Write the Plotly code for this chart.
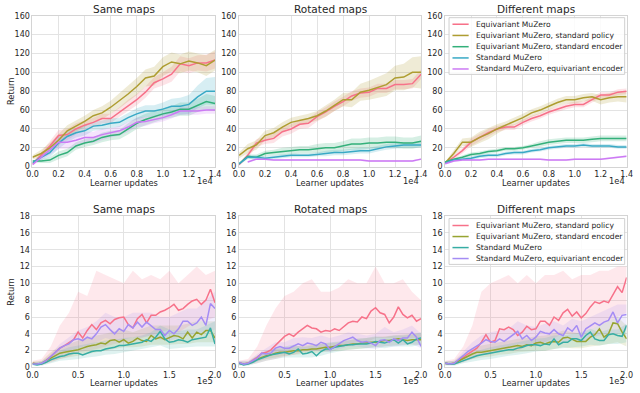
import plotly.graph_objects as go
from plotly.subplots import make_subplots

# ---------------- top row: learner updates (x1e4) ----------------
top_updates = [0, 667, 1333, 2000, 2667, 3333, 4000, 4667, 5333, 6000, 6667,
               7333, 8000, 8667, 9333, 10000, 10667, 11333, 12000, 12667, 13333, 14000]
top_tick_vals = [0, 2000, 4000, 6000, 8000, 10000, 12000, 14000]
top_tick_text = ["0.0", "0.2", "0.4", "0.6", "0.8", "1.0", "1.2", "1.4"]

top_names = ["Equivariant MuZero", "Equivariant MuZero, standard policy",
             "Equivariant MuZero, standard encoder", "Standard MuZero",
             "Standard MuZero, equivariant encoder"]
top_colors = ["#f77189", "#ae9d31", "#33b07a", "#38a9c5", "#cc7af4"]

# same maps
same_eq = [3, 12, 22, 33, 34, 40, 44, 47, 51, 51, 58, 65, 71, 79, 89, 93, 98, 109, 107, 110, 110, 113]
same_pol = [10, 14, 20, 28, 38, 43, 48, 54, 57, 63, 70, 77, 85, 94, 96, 106, 111, 109, 112, 110, 107, 113]
same_enc = [6, 6, 7, 12, 15, 22, 25, 27, 31, 33, 34, 40, 46, 50, 53, 56, 58, 61, 61, 65, 69, 67]
same_std = [4, 10, 15, 25, 32, 36, 38, 43, 44, 46, 47, 52, 56, 59, 59, 61, 64, 64, 66, 74, 80, 80]
same_eqenc = [2, 10, 18, 26, 26, 28, 31, 31, 34, 36, 38, 42, 47, 48, 50, 52, 55, 59, 59, 59, 60, 60]
same_eq_sp = [1, 3, 5, 6, 6, 6, 5, 5, 5, 5, 5, 6, 6, 6, 6, 7, 8, 8, 8, 8, 9, 9]
same_pol_sp = [2, 4, 5, 6, 6, 6, 6, 6, 7, 7, 8, 8, 9, 9, 10, 10, 10, 10, 10, 10, 11, 11]
same_enc_sp = [1, 2, 3, 4, 4, 4, 4, 4, 5, 5, 5, 6, 6, 6, 6, 6, 6, 7, 7, 7, 8, 8]
same_std_sp = [1, 3, 5, 6, 6, 5, 5, 5, 5, 5, 5, 5, 6, 6, 6, 7, 8, 9, 10, 12, 14, 15]
same_eqenc_sp = [1, 3, 5, 7, 7, 7, 6, 6, 6, 5, 5, 5, 5, 5, 4, 4, 4, 4, 4, 4, 4, 4]

# rotated maps
rot_eq = [2, 12, 25, 28, 30, 37, 40, 45, 46, 53, 58, 64, 69, 75, 78, 79, 83, 83, 87, 87, 88, 98]
rot_pol = [12, 19, 23, 33, 36, 42, 47, 49, 51, 54, 59, 65, 71, 71, 79, 81, 84, 87, 94, 95, 100, 100]
rot_enc = [3, 11, 10, 14, 15, 16, 17, 18, 18, 19, 20, 20, 22, 24, 24, 25, 25, 26, 26, 25, 25, 27]
rot_std = [3, 10, 10, 9, 10, 11, 12, 12, 12, 13, 14, 15, 15, 16, 17, 17, 19, 21, 22, 23, 23, 23]
rot_eqenc = [None, 5, 8, 8, 7, 7, 7, 7, 7, 7, 7, 7, 7, 7, 7, 6, 6, 6, 6, 6, 6, 8]
rot_eq_sp = [1, 3, 4, 4, 5, 5, 5, 5, 5, 5, 5, 5, 5, 5, 5, 5, 5, 5, 5, 5, 5, 5]
rot_pol_sp = [3, 5, 5, 5, 5, 5, 5, 5, 5, 5, 6, 6, 7, 8, 9, 10, 11, 12, 13, 14, 16, 17]
rot_enc_sp = [1, 2, 3, 3, 3, 4, 4, 4, 4, 5, 5, 5, 5, 6, 6, 6, 6, 6, 6, 6, 6, 6]
rot_std_sp = [1, 2, 2, 2, 2, 2, 2, 2, 2, 2, 3, 3, 3, 3, 3, 3, 3, 3, 3, 3, 3, 3]
rot_eqenc_sp = [None, 1, 1, 1, 1, 1, 1, 1, 1, 1, 1, 1, 1, 1, 1, 1, 1, 1, 1, 1, 1, 1]

# different maps
diff_eq = [4, 10, 17, 26, 31, 36, 40, 42, 42, 47, 51, 54, 58, 61, 64, 66, 66, 71, 76, 76, 79, 80]
diff_pol = [4, 14, 26, 26, 31, 35, 40, 44, 48, 52, 57, 60, 64, 68, 71, 71, 73, 74, 71, 73, 74, 74]
diff_enc = [5, 8, 10, 13, 14, 16, 17, 19, 19, 20, 22, 24, 26, 27, 28, 28, 28, 29, 30, 30, 30, 30]
diff_std = [4, 7, 8, 9, 11, 12, 12, 14, 15, 15, 17, 18, 20, 21, 22, 22, 23, 22, 22, 22, 21, 21]
diff_eqenc = [3, 6, 7, 7, 7, 8, 8, 8, 8, 8, 8, 8, 7, 7, 7, 8, 8, 8, 8, 9, 10, 11]
diff_eq_sp = [1, 2, 3, 4, 4, 4, 3, 3, 3, 3, 3, 3, 3, 3, 3, 3, 3, 3, 3, 3, 3, 3]
diff_pol_sp = [1, 3, 4, 5, 6, 6, 5, 4, 4, 4, 4, 4, 4, 4, 4, 4, 4, 4, 5, 5, 5, 6]
diff_enc_sp = [1, 1, 2, 2, 2, 2, 2, 2, 2, 2, 2, 3, 3, 3, 3, 3, 3, 3, 3, 3, 3, 3]
diff_std_sp = [1, 1, 1, 2, 2, 2, 2, 2, 2, 2, 2, 2, 2, 2, 2, 2, 2, 2, 2, 2, 2, 2]
diff_eqenc_sp = [1, 1, 1, 1, 1, 1, 1, 1, 1, 1, 1, 1, 1, 1, 1, 1, 1, 1, 1, 1, 1, 1]

# ---------------- bottom row: learner updates (x1e5) ----------------
bottom_updates = [0, 5000, 10000, 15000, 20000, 25000, 30000, 35000, 40000, 45000, 50000,
                  55000, 60000, 65000, 70000, 75000, 80000, 85000, 90000, 95000, 100000,
                  105000, 110000, 115000, 120000, 125000, 130000, 135000, 140000, 145000, 150000,
                  155000, 160000, 165000, 170000, 175000, 180000, 185000, 190000, 195000, 200000]
band_updates = [0, 10000, 20000, 30000, 40000, 50000, 60000, 70000, 80000, 90000, 100000,
                110000, 120000, 130000, 140000, 150000, 160000, 170000, 180000, 190000, 200000]
bottom_tick_vals = [0, 50000, 100000, 150000, 200000]
bottom_tick_text = ["0.0", "0.5", "1.0", "1.5", "2.0"]

bottom_names = ["Equivariant MuZero, standard policy", "Equivariant MuZero, standard encoder",
                "Standard MuZero", "Standard MuZero, equivariant encoder"]
bottom_colors = ["#f77189", "#97a431", "#36ada4", "#a48cf4"]

# same maps
same_b_pol = [0.5, 0.4, 0.4, 0.8, 1.3, 1.8, 2.3, 2.6, 3.0, 3.3, 4.2, 3.5, 4.4, 5.1, 4.5, 5.3, 5.6, 5.2, 5.7, 5.9, 6.0,
              5.1, 4.7, 5.8, 6.3, 5.3, 6.2, 6.2, 6.6, 6.8, 7.1, 7.5, 6.8, 7.0, 7.5, 7.9, 8.1, 7.5, 8.0, 9.3, 7.7]
same_b_enc = [0.5, 0.4, 0.5, 0.8, 1.2, 1.5, 1.7, 1.8, 1.9, 2.0, 2.1, 2.3, 2.5, 2.6, 2.7, 2.9, 2.8, 3.2, 3.3, 3.0, 3.3,
              2.9, 3.1, 3.5, 3.2, 3.1, 3.8, 3.4, 3.6, 3.3, 3.6, 3.8, 3.7, 3.4, 4.2, 3.5, 4.2, 3.9, 4.4, 4.4, 3.5]
same_b_std = [0.4, 0.3, 0.4, 0.6, 0.9, 1.1, 1.3, 1.4, 1.6, 1.7, 1.7, 1.5, 1.7, 1.9, 2.0, 2.0, 2.2, 2.3, 2.4, 2.6, 2.6,
              2.7, 2.8, 2.9, 3.0, 3.3, 3.1, 3.6, 4.3, 3.4, 3.0, 3.1, 3.3, 3.2, 3.0, 3.3, 3.4, 3.5, 3.6, 4.7, 2.8]
same_b_eqenc = [0.4, 0.4, 0.5, 0.8, 1.3, 1.8, 2.3, 2.6, 2.8, 3.3, 3.4, 3.2, 3.6, 3.4, 4.0, 4.8, 5.1, 4.5, 4.0, 4.6, 4.3,
                5.1, 4.7, 5.4, 4.8, 5.4, 5.0, 4.5, 4.5, 3.8, 4.4, 4.0, 4.6, 5.5, 5.5, 5.0, 5.3, 6.0, 5.0, 7.6, 7.0]
same_b_pol_lo = [0.3, 0.3, 0.6, 1.0, 1.3, 1.8, 2.0, 2.2, 2.5, 2.8, 3.0, 3.0, 3.5, 3.8, 4.2, 4.5, 4.2, 4.8, 5.5, 5.5, 6.0]
same_b_pol_hi = [0.8, 1.0, 2.5, 5.0, 6.5, 9.0, 8.5, 11.5, 11.0, 10.5, 10.0, 11.5, 10.5, 11.0, 10.5, 11.5, 10.0, 11.0, 12.0, 11.0, 11.5]
same_b_enc_lo = [0.3, 0.3, 0.7, 1.0, 1.2, 1.4, 1.6, 1.8, 2.0, 2.2, 2.4, 2.4, 2.5, 2.7, 2.7, 2.7, 2.8, 2.8, 3.0, 3.0, 3.0]
same_b_enc_hi = [0.7, 0.8, 1.8, 2.5, 2.8, 3.2, 3.6, 3.8, 4.0, 4.3, 4.5, 4.2, 4.6, 5.0, 5.0, 5.0, 5.0, 5.2, 5.5, 5.5, 5.5]
same_b_std_lo = [0.2, 0.2, 0.5, 0.8, 0.9, 1.0, 1.2, 1.3, 1.5, 1.6, 1.8, 2.0, 2.2, 2.4, 2.6, 2.2, 2.3, 2.4, 2.5, 2.5, 2.5]
same_b_std_hi = [0.6, 0.7, 1.4, 2.0, 2.4, 2.6, 2.8, 3.0, 3.2, 3.3, 3.5, 3.6, 3.8, 4.2, 5.0, 4.5, 4.3, 4.5, 4.5, 5.0, 5.5]
same_b_eqenc_lo = [0.3, 0.3, 0.8, 1.6, 2.0, 2.3, 2.6, 3.0, 3.5, 3.2, 3.3, 3.6, 3.6, 3.8, 3.3, 3.2, 3.5, 3.8, 4.0, 4.2, 4.5]
same_b_eqenc_hi = [0.6, 0.7, 1.6, 2.8, 3.6, 4.4, 4.8, 5.5, 6.5, 6.0, 6.0, 6.5, 6.5, 6.5, 6.0, 6.0, 6.5, 7.0, 7.0, 8.0, 9.0]

# rotated maps
rot_b_pol = [0.6, 0.4, 0.5, 0.8, 1.2, 1.7, 1.8, 2.1, 2.6, 3.2, 3.7, 4.0, 3.7, 4.2, 4.6, 5.0, 4.7, 4.6, 4.2, 4.4, 4.3,
             4.6, 4.4, 4.9, 5.3, 5.5, 5.4, 6.0, 5.8, 6.7, 7.1, 6.5, 6.3, 5.3, 6.0, 7.2, 6.3, 5.9, 6.2, 5.5, 5.8]
rot_b_enc = [0.5, 0.4, 0.5, 0.7, 1.0, 1.2, 1.4, 1.5, 1.7, 1.8, 1.8, 1.9, 2.0, 2.0, 2.1, 2.1, 2.2, 2.2, 2.3, 2.4, 2.4,
             2.5, 2.6, 2.6, 2.7, 2.8, 2.8, 2.9, 2.9, 3.0, 3.0, 3.1, 3.2, 3.2, 3.3, 3.4, 3.3, 3.2, 3.3, 3.3, 3.3]
rot_b_std = [0.5, 0.3, 0.4, 0.6, 0.9, 1.1, 1.3, 1.5, 1.6, 1.7, 1.8, 1.6, 1.8, 2.2, 1.6, 1.7, 1.9, 1.4, 1.9, 2.2, 2.2,
             2.4, 2.5, 2.6, 2.7, 2.7, 2.8, 2.8, 2.8, 2.9, 3.1, 3.0, 2.9, 3.1, 3.3, 2.9, 3.3, 2.8, 3.0, 3.4, 3.5]
rot_b_eqenc = [0.6, 0.4, 0.5, 0.8, 1.1, 1.7, 1.6, 1.7, 2.3, 2.5, 2.3, 2.3, 2.6, 2.8, 2.6, 2.9, 2.8, 2.6, 3.0, 2.8, 2.1,
               2.5, 2.9, 3.2, 3.4, 3.6, 3.2, 3.0, 3.1, 2.9, 2.6, 3.2, 3.3, 3.0, 3.4, 3.2, 3.5, 3.5, 4.2, 3.6, 2.5]
rot_b_pol_lo = [0.3, 0.3, 0.5, 0.8, 1.0, 1.3, 1.5, 1.8, 2.0, 2.0, 2.2, 2.5, 2.8, 3.0, 3.0, 3.5, 3.5, 3.5, 3.5, 3.5, 3.5]
rot_b_pol_hi = [0.8, 1.0, 2.5, 5.0, 7.0, 8.5, 9.0, 10.0, 10.5, 9.0, 9.0, 9.5, 10.5, 10.0, 10.0, 12.0, 10.0, 10.0, 10.5, 9.0, 8.0]
rot_b_enc_lo = [0.3, 0.3, 0.7, 1.0, 1.2, 1.4, 1.5, 1.6, 1.7, 1.8, 1.9, 2.0, 2.1, 2.2, 2.3, 2.4, 2.5, 2.6, 2.7, 2.7, 2.7]
rot_b_enc_hi = [0.7, 0.7, 1.4, 1.9, 2.2, 2.3, 2.5, 2.6, 2.7, 2.8, 2.9, 3.0, 3.2, 3.4, 3.5, 3.6, 3.7, 3.8, 3.9, 4.0, 4.0]
rot_b_std_lo = [0.2, 0.2, 0.5, 0.8, 1.0, 1.2, 1.2, 1.2, 1.2, 1.4, 1.7, 1.9, 2.1, 2.2, 2.3, 2.4, 2.3, 2.5, 2.5, 2.5, 2.7]
rot_b_std_hi = [0.7, 0.7, 1.4, 2.0, 2.3, 2.5, 2.7, 2.4, 2.6, 2.8, 3.0, 3.1, 3.3, 3.4, 3.5, 3.7, 3.6, 3.8, 3.8, 3.9, 4.2]
rot_b_eqenc_lo = [0.3, 0.3, 0.7, 1.2, 1.5, 1.6, 1.8, 2.0, 2.0, 2.0, 1.8, 2.2, 2.5, 2.5, 2.3, 2.2, 2.5, 2.5, 2.6, 2.8, 2.3]
rot_b_eqenc_hi = [0.8, 0.8, 1.6, 2.3, 3.0, 3.0, 3.5, 3.6, 3.5, 3.8, 3.5, 3.8, 4.2, 4.0, 3.8, 4.0, 4.8, 4.2, 4.5, 5.0, 4.0]

# different maps
diff_b_pol = [0.5, 0.4, 0.5, 0.8, 1.2, 1.6, 2.0, 2.3, 3.0, 3.9, 3.0, 3.2, 4.6, 4.5, 4.8, 4.5, 3.8, 4.2, 4.9, 4.5, 4.6,
              5.5, 5.5, 5.0, 6.0, 5.6, 6.5, 6.9, 6.1, 6.6, 5.9, 6.4, 7.2, 7.8, 7.6, 7.9, 7.7, 8.7, 9.6, 8.9, 10.7]
diff_b_enc = [0.5, 0.4, 0.5, 0.8, 1.1, 1.4, 1.6, 1.8, 1.8, 1.9, 2.0, 2.1, 2.2, 2.3, 2.4, 2.5, 2.6, 2.5, 2.7, 2.6, 2.9,
              3.0, 2.8, 3.0, 3.1, 3.0, 3.5, 3.6, 3.3, 3.1, 3.1, 3.1, 3.6, 3.9, 4.6, 3.6, 4.0, 5.3, 5.2, 4.2, 3.4]
diff_b_std = [0.5, 0.4, 0.4, 0.6, 0.8, 1.0, 1.2, 1.4, 1.5, 1.6, 1.7, 1.8, 1.9, 2.0, 2.1, 2.1, 2.3, 2.4, 2.6, 2.7, 2.7,
              2.6, 2.8, 2.7, 3.4, 2.7, 3.0, 3.0, 3.4, 3.4, 3.2, 3.8, 4.2, 3.4, 3.2, 3.2, 3.9, 4.0, 3.8, 3.7, 5.0]
diff_b_eqenc = [0.5, 0.4, 0.5, 0.9, 1.4, 1.9, 2.2, 2.5, 2.9, 3.3, 3.1, 3.0, 3.4, 3.1, 3.5, 3.8, 4.3, 3.4, 3.8, 3.2, 3.6,
                4.3, 4.1, 4.0, 4.5, 4.0, 3.8, 4.7, 4.3, 5.0, 3.6, 4.6, 4.9, 5.3, 5.0, 5.4, 5.6, 6.6, 5.3, 6.2, 6.3]
diff_b_pol_lo = [0.3, 0.3, 0.6, 1.0, 1.5, 1.5, 2.0, 2.0, 2.0, 2.5, 2.5, 3.0, 3.5, 4.0, 4.0, 4.0, 4.5, 5.0, 5.5, 6.0, 6.5]
diff_b_pol_hi = [0.8, 1.0, 2.5, 5.0, 9.0, 10.0, 10.5, 11.0, 10.0, 11.0, 10.0, 11.0, 11.0, 11.5, 10.5, 11.0, 11.0, 11.5, 11.5, 12.0, 12.0]
diff_b_enc_lo = [0.3, 0.3, 0.7, 1.0, 1.2, 1.3, 1.5, 1.6, 1.8, 1.9, 2.0, 2.0, 2.2, 2.4, 2.3, 2.3, 2.5, 2.6, 2.8, 3.0, 2.5]
diff_b_enc_hi = [0.7, 0.8, 1.6, 2.3, 2.6, 2.8, 3.0, 3.2, 3.4, 3.5, 3.7, 3.8, 4.0, 4.4, 4.2, 4.0, 4.5, 5.0, 5.5, 6.0, 5.0]
diff_b_std_lo = [0.2, 0.2, 0.5, 0.7, 0.9, 1.0, 1.2, 1.4, 1.5, 1.7, 1.9, 2.0, 2.2, 2.3, 2.4, 2.5, 2.7, 2.6, 2.8, 2.8, 3.0]
diff_b_std_hi = [0.7, 0.7, 1.2, 1.8, 2.1, 2.4, 2.6, 2.8, 3.0, 3.2, 3.4, 3.5, 3.8, 3.8, 4.0, 4.2, 4.6, 4.2, 4.5, 4.5, 5.2]
diff_b_eqenc_lo = [0.3, 0.3, 0.9, 1.6, 2.0, 2.2, 2.3, 2.5, 2.8, 2.8, 2.8, 3.0, 3.0, 3.0, 3.3, 3.0, 3.5, 3.8, 4.0, 4.0, 4.5]
diff_b_eqenc_hi = [0.7, 0.8, 1.9, 3.0, 3.8, 4.2, 4.4, 4.6, 5.5, 5.0, 4.8, 5.2, 5.5, 5.0, 5.8, 5.5, 6.0, 6.5, 7.0, 7.5, 7.5]

titles = ["Same maps", "Rotated maps", "Different maps"]

TEXT = "#262626"
FONT = "DejaVu Sans"
W, H = 640, 393


def px_x(px):
    return px / W


def px_y(py):
    return 1 - py / H


def rgba(hex_color, a):
    h = hex_color.lstrip("#")
    return "rgba(%d,%d,%d,%s)" % (int(h[0:2], 16), int(h[2:4], 16), int(h[4:6], 16), a)


def add_band(fig, xs, lo, hi, color, row, col, alpha):
    pts = [(x, l, h) for x, l, h in zip(xs, lo, hi) if l is not None and h is not None]
    bx = [p[0] for p in pts]
    fig.add_trace(go.Scatter(x=bx + bx[::-1], y=[p[2] for p in pts] + [p[1] for p in pts][::-1],
                             fill="toself", fillcolor=rgba(color, alpha), line=dict(width=0),
                             mode="lines", hoverinfo="skip", showlegend=False), row=row, col=col)


fig = make_subplots(rows=2, cols=3)

top_panels = [
    [(same_eq, same_eq_sp), (same_pol, same_pol_sp), (same_enc, same_enc_sp), (same_std, same_std_sp), (same_eqenc, same_eqenc_sp)],
    [(rot_eq, rot_eq_sp), (rot_pol, rot_pol_sp), (rot_enc, rot_enc_sp), (rot_std, rot_std_sp), (rot_eqenc, rot_eqenc_sp)],
    [(diff_eq, diff_eq_sp), (diff_pol, diff_pol_sp), (diff_enc, diff_enc_sp), (diff_std, diff_std_sp), (diff_eqenc, diff_eqenc_sp)],
]
for c, panel in enumerate(top_panels, start=1):
    for (mean, sp), color in zip(panel, top_colors):
        lo = [None if m is None else m - s for m, s in zip(mean, sp)]
        hi = [None if m is None else m + s for m, s in zip(mean, sp)]
        add_band(fig, top_updates, lo, hi, color, 1, c, 0.2)
    for (mean, sp), color, name in zip(panel, top_colors, top_names):
        fig.add_trace(go.Scatter(x=top_updates, y=mean, mode="lines", name=name,
                                 line=dict(color=color, width=1.5), showlegend=False), row=1, col=c)

bottom_panels = [
    [(same_b_pol, same_b_pol_lo, same_b_pol_hi), (same_b_enc, same_b_enc_lo, same_b_enc_hi),
     (same_b_std, same_b_std_lo, same_b_std_hi), (same_b_eqenc, same_b_eqenc_lo, same_b_eqenc_hi)],
    [(rot_b_pol, rot_b_pol_lo, rot_b_pol_hi), (rot_b_enc, rot_b_enc_lo, rot_b_enc_hi),
     (rot_b_std, rot_b_std_lo, rot_b_std_hi), (rot_b_eqenc, rot_b_eqenc_lo, rot_b_eqenc_hi)],
    [(diff_b_pol, diff_b_pol_lo, diff_b_pol_hi), (diff_b_enc, diff_b_enc_lo, diff_b_enc_hi),
     (diff_b_std, diff_b_std_lo, diff_b_std_hi), (diff_b_eqenc, diff_b_eqenc_lo, diff_b_eqenc_hi)],
]
for c, panel in enumerate(bottom_panels, start=1):
    for (mean, lo, hi), color in zip(panel, bottom_colors):
        add_band(fig, band_updates, lo, hi, color, 2, c, 0.16)
    for (mean, lo, hi), color, name in zip(panel, bottom_colors, bottom_names):
        fig.add_trace(go.Scatter(x=bottom_updates, y=mean, mode="lines", name=name,
                                 line=dict(color=color, width=1.5), showlegend=False), row=2, col=c)

# panel placement, in pixels of the 640x393 page
x_px = [(27, 213), (237.5, 423), (447.5, 632.5)]
y_px = [(12, 166.5), (217, 372)]
axis_style = dict(showline=True, mirror=True, linecolor="#d4d4d4", linewidth=1, gridcolor="#e3e3e3",
                  gridwidth=1, zeroline=False, ticks="", tickfont=dict(size=8, color=TEXT, family=FONT))
for r in range(2):
    for c in range(3):
        idx = r * 3 + c + 1
        xa = "xaxis" if idx == 1 else "xaxis%d" % idx
        ya = "yaxis" if idx == 1 else "yaxis%d" % idx
        xd = [px_x(x_px[c][0]), px_x(x_px[c][1])]
        yd = [px_y(y_px[r][1]), px_y(y_px[r][0])]
        if r == 0:
            xr, tv, tt, yr, dt = [0, 14000], top_tick_vals, top_tick_text, [0, 160], 20
        else:
            xr, tv, tt, yr, dt = [0, 200000], bottom_tick_vals, bottom_tick_text, [0, 18], 2
        fig.layout[xa].update(domain=xd, range=xr, tickvals=tv, ticktext=tt, **axis_style)
        fig.layout[ya].update(domain=yd, range=yr, dtick=dt, **axis_style)

annotations = []
for r in range(2):
    for c in range(3):
        cx = px_x((x_px[c][0] + x_px[c][1]) / 2)
        ytitle = 5 if r == 0 else 210
        annotations.append(dict(text=titles[c], x=cx, y=px_y(ytitle), xref="paper", yref="paper",
                                showarrow=False, xanchor="center", yanchor="middle",
                                font=dict(size=10.5, color=TEXT, family=FONT)))
        ylab = 183 if r == 0 else 387.5
        annotations.append(dict(text="Learner updates", x=cx, y=px_y(ylab), xref="paper", yref="paper",
                                showarrow=False, xanchor="center", yanchor="middle",
                                font=dict(size=8.3, color=TEXT, family=FONT)))
        annotations.append(dict(text="1e4" if r == 0 else "1e5", x=px_x(x_px[c][1]), y=px_y(ylab - 1.5),
                                xref="paper", yref="paper", showarrow=False, xanchor="right", yanchor="middle",
                                font=dict(size=8.3, color=TEXT, family=FONT)))
    annotations.append(dict(text="Return", x=px_x(5), y=px_y(sum(y_px[r]) / 2), xref="paper", yref="paper",
                            showarrow=False, textangle=-90, xanchor="center", yanchor="middle",
                            font=dict(size=8.3, color=TEXT, family=FONT)))

# legends drawn inside the right-hand panels
shapes = []
legends = [
    (top_names, top_colors, (451.5, 14, 630.5, 72), [20.7, 32.2, 43.7, 55.2, 66.5]),
    (bottom_names, bottom_colors, (451.5, 219.5, 630.5, 266.5), [226.7, 238, 249.3, 260.5]),
]
for names, colors, box, rows_y in legends:
    x0, y0, x1, y1 = box
    shapes.append(dict(type="rect", xref="paper", yref="paper", x0=px_x(x0), x1=px_x(x1),
                       y0=px_y(y1), y1=px_y(y0), line=dict(color="#d0d0d0", width=1),
                       fillcolor="rgba(255,255,255,0.85)", layer="above"))
    for name, color, yy in zip(names, colors, rows_y):
        shapes.append(dict(type="line", xref="paper", yref="paper", x0=px_x(455), x1=px_x(471.5),
                           y0=px_y(yy), y1=px_y(yy), line=dict(color=color, width=1.5), layer="above"))
        annotations.append(dict(text=name, x=px_x(477), y=px_y(yy), xref="paper", yref="paper",
                                showarrow=False, xanchor="left", yanchor="middle",
                                font=dict(size=7.6, color=TEXT, family=FONT)))

fig.update_layout(width=W, height=H, margin=dict(l=0, r=0, t=0, b=0),
                  paper_bgcolor="white", plot_bgcolor="white", showlegend=False,
                  font=dict(family=FONT, color=TEXT), annotations=annotations, shapes=shapes)

# the page body has a default 8px margin; drop it so the figure sits at the window's corner
fig.write_html("out.html", config={"displayModeBar": False},
               post_script="document.body.style.margin='0px';")
